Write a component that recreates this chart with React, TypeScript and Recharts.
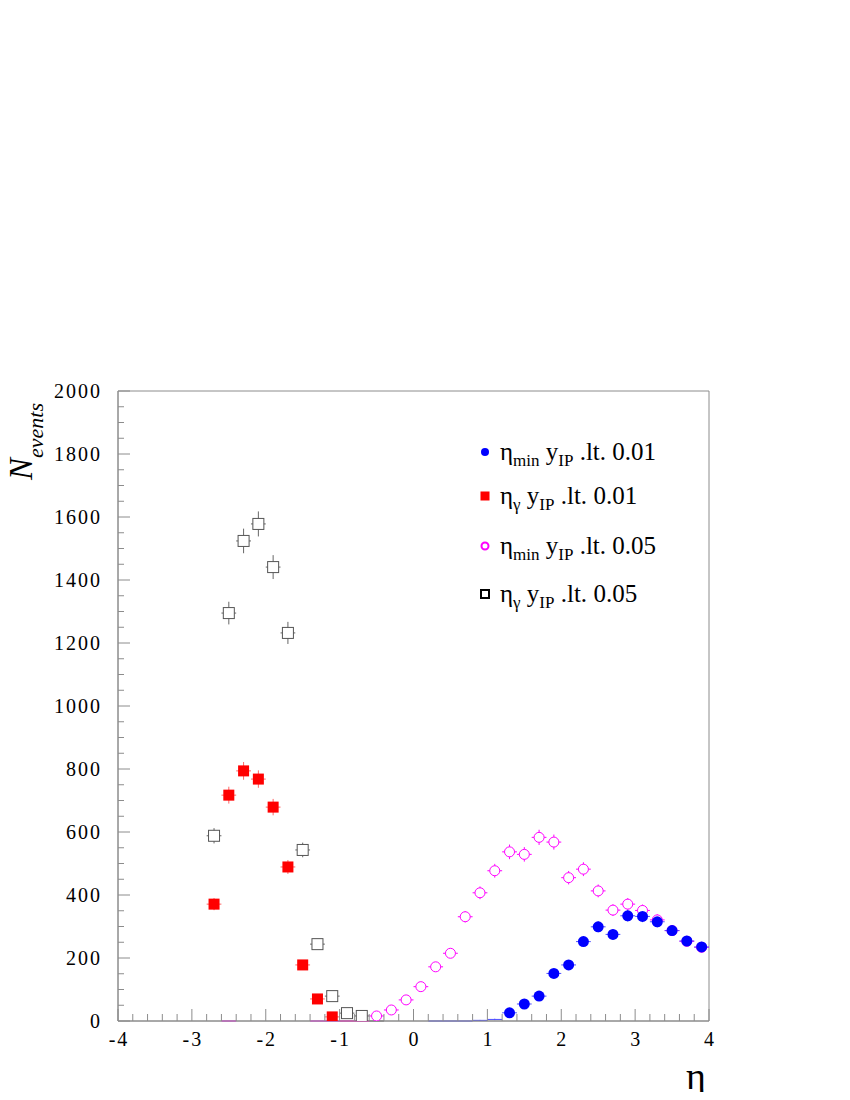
import { ErrorBar, ReferenceArea, Scatter, ScatterChart, XAxis, YAxis } from 'recharts'

// eta bin centres and event counts
const blueEta = [0.3, 0.5, 0.7, 0.9, 1.1, 1.3, 1.5, 1.7, 1.9, 2.1, 2.3, 2.5, 2.7, 2.9, 3.1, 3.3, 3.5, 3.7, 3.9]
const blueN = [0, 0, 0, 2, 5, 26, 54, 79, 151, 178, 252, 299, 275, 334, 332, 315, 287, 254, 235]

const redEta = [-2.7, -2.5, -2.3, -2.1, -1.9, -1.7, -1.5, -1.3, -1.1, -0.9, -0.7]
const redN = [371, 717, 794, 768, 679, 489, 178, 70, 13, 0, 0]

const magentaEta = [
  -2.5, -1.3, -1.1, -0.9, -0.7, -0.5, -0.3, -0.1, 0.1, 0.3, 0.5, 0.7, 0.9, 1.1, 1.3, 1.5, 1.7, 1.9, 2.1, 2.3, 2.5,
  2.7, 2.9, 3.1, 3.3, 3.5, 3.7, 3.9,
]
const magentaN = [
  0, 0, 0, 0, 0, 16, 35, 67, 109, 172, 215, 331, 407, 477, 537, 529, 583, 568, 455, 482, 413, 352, 371, 351, 321,
  287, 253, 234,
]

const grayEta = [-2.7, -2.5, -2.3, -2.1, -1.9, -1.7, -1.5, -1.3, -1.1, -0.9, -0.7, -0.5]
const grayN = [588, 1295, 1524, 1578, 1441, 1232, 543, 244, 79, 25, 16, 0]

const xMajorTicks = [-4, -3, -2, -1, 0, 1, 2, 3, 4]
const yMajorTicks = [0, 200, 400, 600, 800, 1000, 1200, 1400, 1600, 1800, 2000]

const binHalfWidth = 0.1

const xTicks: number[] = []
for (let i = 0; i <= 40; i++) xTicks.push(Math.round((-4 + i * 0.2) * 10) / 10)
const yTicks: number[] = []
for (let i = 0; i <= 40; i++) yTicks.push(i * 50)

const points = (xs: number[], ys: number[]) =>
  xs.map((x, i) => ({ x, y: ys[i], ex: binHalfWidth, ey: Math.sqrt(ys[i]) }))

const font = 'Liberation Serif, Times New Roman, serif'
const axisGray = '#8c8c8c'

type Kind = 'blue' | 'red' | 'magenta' | 'gray'

const marker = (kind: Kind) => (props: any) => {
  const { cx, cy, payload } = props
  if (cx == null || cy == null || payload.y < 6) return <g />
  if (kind === 'blue') return <circle cx={cx} cy={cy} r={5.5} fill="#0000ff" />
  if (kind === 'magenta')
    return <circle cx={cx} cy={cy} r={5} fill="#fff" stroke="#ff00ff" strokeWidth={1} />
  if (kind === 'red') return <rect x={cx - 5.5} y={cy - 5.5} width={11} height={11} fill="#ff0000" />
  return <rect x={cx - 5.5} y={cy - 5.5} width={11} height={11} fill="#fff" stroke="#555" strokeWidth={1} />
}

function XTick({ x, y, payload }: any) {
  const v = payload.value
  const major = xMajorTicks.includes(v)
  return (
    <g>
      <line x1={x} x2={x} y1={y} y2={y - (major ? 12 : 7)} stroke={axisGray} />
      {major && (
        <text x={x + 1} y={y + 25} textAnchor="middle" fontFamily={font} fontSize={20} letterSpacing={2} fill="#000">
          {v}
        </text>
      )}
    </g>
  )
}

function YTick({ x, y, payload }: any) {
  const v = payload.value
  const major = yMajorTicks.includes(v)
  return (
    <g>
      <line x1={x} x2={x + (major ? 12 : 6)} y1={y} y2={y} stroke={axisGray} />
      {major && (
        <text x={x - 16} y={y + 7} textAnchor="end" fontFamily={font} fontSize={20} letterSpacing={2} fill="#000">
          {v}
        </text>
      )}
    </g>
  )
}

const series: { kind: Kind; data: ReturnType<typeof points>; bar: string }[] = [
  { kind: 'gray', data: points(grayEta, grayN), bar: '#666' },
  { kind: 'red', data: points(redEta, redN), bar: '#ff6666' },
  { kind: 'magenta', data: points(magentaEta, magentaN), bar: '#ff00ff' },
  { kind: 'blue', data: points(blueEta, blueN), bar: '#4d4dff' },
]

const legendRows: { kind: Kind; sub: string; cut: string }[] = [
  { kind: 'blue', sub: 'min', cut: '0.01' },
  { kind: 'red', sub: 'γ', cut: '0.01' },
  { kind: 'magenta', sub: 'min', cut: '0.05' },
  { kind: 'gray', sub: 'γ', cut: '0.05' },
]

function LegendMark({ kind }: { kind: Kind }) {
  return (
    <svg width={14} height={14} style={{ display: 'block' }}>
      {kind === 'blue' && <circle cx={7} cy={7} r={4} fill="#0000ff" />}
      {kind === 'magenta' && <circle cx={7} cy={7} r={3.5} fill="none" stroke="#ff00ff" strokeWidth={2} />}
      {kind === 'red' && <rect x={2.5} y={2.5} width={9} height={9} fill="#ff0000" />}
      {kind === 'gray' && <rect x={3} y={3} width={8} height={8} fill="none" stroke="#000" strokeWidth={2} />}
    </svg>
  )
}

const subStyle = { fontSize: 17, verticalAlign: '-6px', lineHeight: 0 }

export default function App() {
  return (
    <div style={{ position: 'relative', width: 842, height: 1084, fontFamily: font }}>
      <ScatterChart width={842} height={1084} margin={{ top: 383, right: 141, bottom: 31, left: 10 }}>
        <XAxis
          type="number"
          dataKey="x"
          domain={[-4, 4]}
          ticks={xTicks}
          interval={0}
          height={40}
          tickSize={0}
          tickMargin={0}
          tickLine={false}
          tick={<XTick />}
          stroke={axisGray}
          allowDataOverflow
        />
        <YAxis
          type="number"
          dataKey="y"
          domain={[0, 2000]}
          ticks={yTicks}
          interval={0}
          width={100}
          tickSize={0}
          tickMargin={0}
          tickLine={false}
          tick={<YTick />}
          stroke={axisGray}
          allowDataOverflow
        />
        <ReferenceArea x1={-4} x2={4} y1={0} y2={2000} fill="none" stroke={axisGray} strokeWidth={1} />
        {series.map((s) => (
          <Scatter key={s.kind} data={s.data} dataKey="y" shape={marker(s.kind)} isAnimationActive={false}>
            <ErrorBar dataKey="ey" direction="y" width={0} stroke={s.bar} strokeWidth={1} />
            <ErrorBar dataKey="ex" direction="x" width={0} stroke={s.bar} strokeWidth={1} />
          </Scatter>
        ))}
      </ScatterChart>

      {/* legend */}
      {legendRows.map((r, i) => (
        <div
          key={i}
          style={{
            position: 'absolute',
            left: 470,
            top: 430 + [0, 44, 94, 142][i],
            display: 'flex',
            alignItems: 'center',
            fontSize: 25,
            whiteSpace: 'nowrap',
          }}
        >
          <LegendMark kind={r.kind} />
          <span style={{ marginLeft: 8 }}>
            η<span style={subStyle}>{r.sub}</span> y<span style={subStyle}>IP</span> .lt. {r.cut}
          </span>
        </div>
      ))}

      {/* y-axis title */}
      <div
        style={{
          position: 'absolute',
          left: -47,
          top: 392,
          width: 120,
          height: 40,
          transform: 'rotate(-90deg)',
          fontStyle: 'italic',
          whiteSpace: 'nowrap',
          lineHeight: '40px',
        }}
      >
        <span style={{ fontSize: 33 }}>N</span>
        <span style={{ fontSize: 22, verticalAlign: '-11px', lineHeight: 0 }}>events</span>
      </div>

      {/* x-axis title */}
      <div style={{ position: 'absolute', left: 678, top: 1046, fontSize: 38 }}>η</div>
    </div>
  )
}
